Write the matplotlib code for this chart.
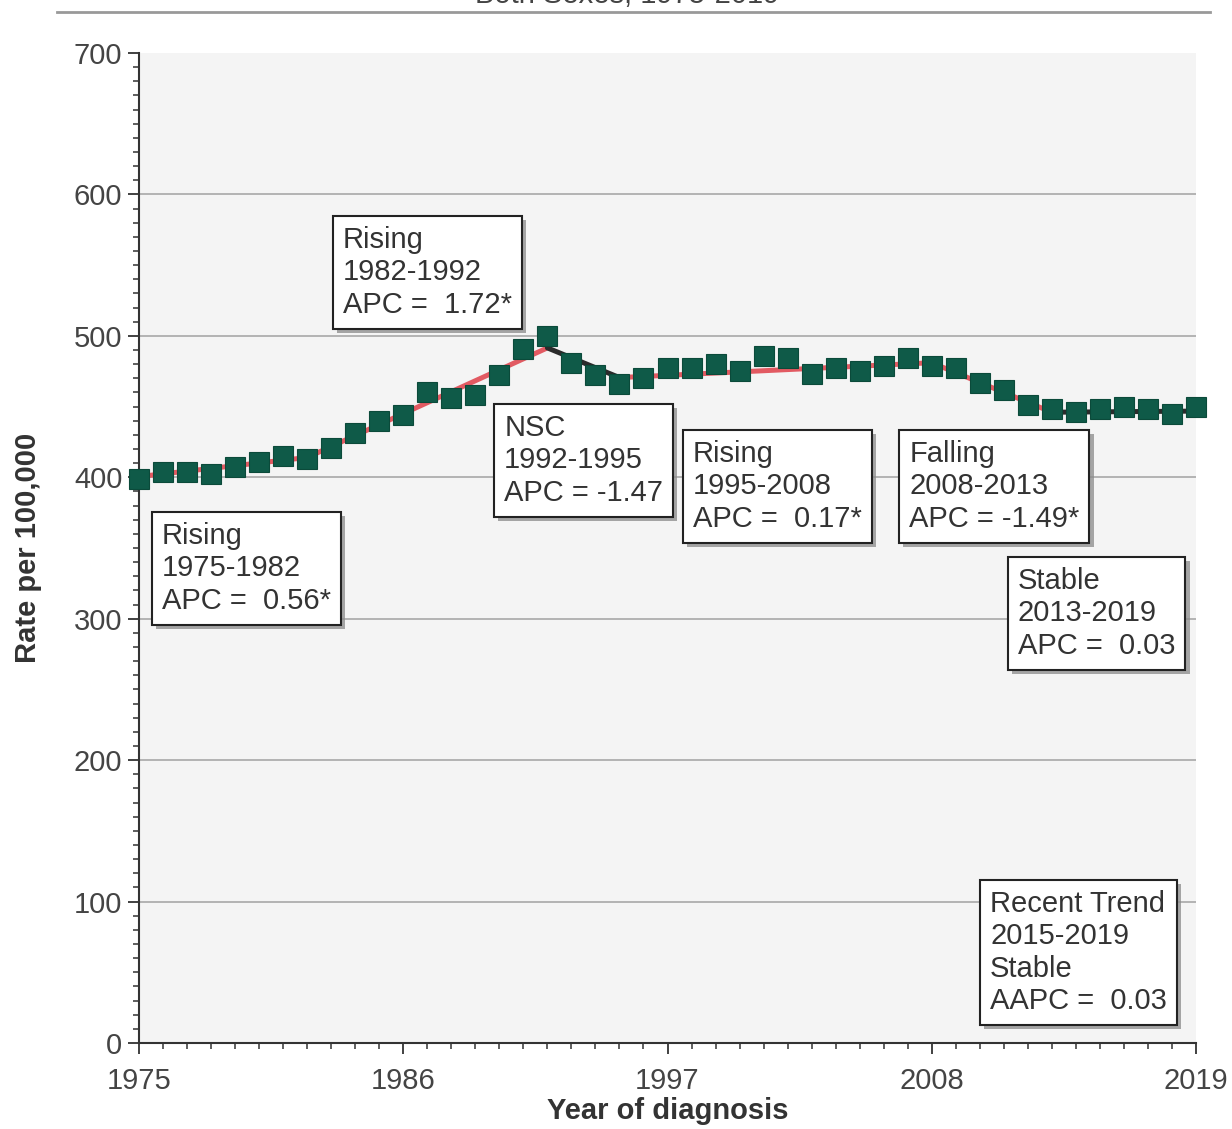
import matplotlib
matplotlib.use("Agg")
import matplotlib.pyplot as plt
import matplotlib.patheffects as pe
from matplotlib.lines import Line2D
from matplotlib.ticker import MultipleLocator, FixedLocator

plt.rcParams['font.family'] = ['Liberation Sans', 'DejaVu Sans']

# ---- data ----
years = list(range(1975, 2020))
rates = [399, 404, 404, 402, 407, 411, 415, 413, 421, 431,
         440, 444, 460, 456, 458, 472, 491, 500, 481, 472,
         466, 470, 477, 477, 480, 475, 486, 484, 473, 477,
         475, 479, 484, 479, 477, 467, 462, 451, 448, 446,
         448, 450, 448, 445, 450]

joinpoints = [1975, 1982, 1992, 1995, 2008, 2013, 2019]
fitted = [400.5, 414.0, 491.5, 470.5, 481.0, 446.0, 446.8]
significant = [True, True, False, True, True, False]

xticks = [1975, 1986, 1997, 2008, 2019]
yticks = [0, 100, 200, 300, 400, 500, 600, 700]

ann_texts = [
    "Rising\n1982-1992\nAPC =  1.72*",
    "Rising\n1975-1982\nAPC =  0.56*",
    "NSC\n1992-1995\nAPC = -1.47",
    "Rising\n1995-2008\nAPC =  0.17*",
    "Falling\n2008-2013\nAPC = -1.49*",
    "Stable\n2013-2019\nAPC =  0.03",
    "Recent Trend\n2015-2019\nStable\nAAPC =  0.03",
]
ann_x = [1983.49, 1975.96, 1990.20, 1998.06, 2007.06, 2011.59, 2010.43]
ann_y = [577.8, 368.5, 444.8, 426.4, 426.4, 336.6, 108.2]

# ---- figure ----
W, H = 1232, 1129
fig = plt.figure(figsize=(W / 100, H / 100), dpi=100)
ax = fig.add_axes([139 / W, 1 - 1043 / H, (1196 - 139) / W, (1043 - 53) / H])
ax.set_facecolor('#f4f4f4')

ax.set_xlim(1975, 2019)
ax.set_ylim(0, 700)

for y in yticks[1:-1]:
    ax.axhline(y, color='#a8a8a8', lw=1.2, zorder=1)

# fitted joinpoint segments
for i in range(len(joinpoints) - 1):
    col = '#e25a62' if significant[i] else '#2b2b2b'
    ax.plot(joinpoints[i:i + 2], fitted[i:i + 2], color=col, lw=3.6,
            solid_capstyle='round', zorder=3, clip_on=False)

ax.plot(years, rates, linestyle='none', marker='s', markersize=14,
        markerfacecolor='#0f5a48', markeredgecolor='#0b4a3a', markeredgewidth=0.8,
        zorder=4, clip_on=False)

# annotation boxes with drop shadows
FS = 21
LS = 1.2
for t, x, y in zip(ann_texts, ann_x, ann_y):
    txt = ax.text(x, y, t, ha='left', va='top', fontsize=FS, color='#333333', linespacing=LS,
                  bbox=dict(boxstyle='square,pad=0.34', fc='white', ec='#222222', lw=1.5),
                  zorder=6)
    txt.get_bbox_patch().set_path_effects([
        pe.SimplePatchShadow(offset=(3, -3), shadow_rgbFace='#8a8a8a', alpha=0.75),
        pe.Normal()])

# axes styling
for s in ['top', 'right']:
    ax.spines[s].set_visible(False)
for s in ['left', 'bottom']:
    ax.spines[s].set_color('#333333')
    ax.spines[s].set_linewidth(1.5)

ax.xaxis.set_major_locator(FixedLocator(xticks))
ax.xaxis.set_minor_locator(MultipleLocator(1))
ax.yaxis.set_major_locator(FixedLocator(yticks))
ax.yaxis.set_minor_locator(MultipleLocator(10))
ax.tick_params(axis='both', which='major', direction='out', length=8, width=1.3,
               colors='#333333', labelsize=21, labelcolor='#444444')
ax.tick_params(axis='both', which='minor', direction='out', length=4.5, width=1.1,
               colors='#333333')
ax.tick_params(axis='x', which='major', pad=9)
ax.tick_params(axis='y', which='major', pad=4)

ax.set_ylabel('Rate per 100,000', fontsize=21, fontweight='bold', color='#333333')
ax.yaxis.label.set_va('center')
ax.yaxis.set_label_coords((28 - 139) / 1057, 0.5)
ax.set_xlabel('Year of diagnosis', fontsize=21, fontweight='bold', color='#333333')
ax.xaxis.label.set_va('center')
ax.xaxis.set_label_coords(0.5, (1043 - 1111) / 990)

# partially visible title and rule at the top
fig.text(627 / W, 1 - 3 / H, 'Both Sexes, 1975-2019', ha='center', va='baseline',
         fontsize=21, color='#444444')
fig.add_artist(Line2D([57 / W, 1210 / W], [1 - 12 / H, 1 - 12 / H], color='#999999', lw=2))

fig.savefig('out.png', dpi=100, facecolor='white')
